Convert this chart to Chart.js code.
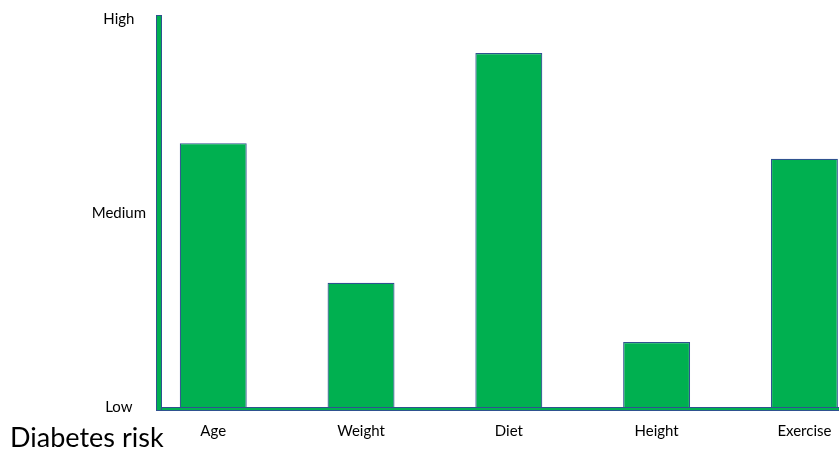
<!DOCTYPE html>
<html>
<head>
<meta charset="utf-8">
<script src="https://cdn.jsdelivr.net/npm/chart.js@4"></script>
<style>
    html, body { margin: 0; padding: 0; background: #fff; }
    #wrap { width: 839px; height: 452px; }
</style>
</head>
<body>
<div id="wrap"><canvas id="riskChart" width="839" height="452"></canvas></div>
<script>
// Data
const categories = ["Age", "Weight", "Diet", "Height", "Exercise"];
const riskValues = [1.36, 0.64, 1.825, 0.335, 1.28];
const riskTicks = [0, 1, 2];
const riskLabels = ["Low", "Medium", "High"];

const green = "#00B050";
const outline = "#2F528F";

// Axis arrows drawn as green bands with a blue outline
const axisBands = {
    id: "axisBands",
    afterDatasetsDraw(chart) {
        const { ctx, chartArea } = chart;
        const y0 = chart.scales.y.getPixelForValue(0);
        const left = chartArea.left;
        ctx.save();
        ctx.fillStyle = green;
        ctx.strokeStyle = outline;
        ctx.lineWidth = 1;
        // horizontal
        ctx.fillRect(left - 3, y0, chartArea.right - left + 3, 4);
        ctx.strokeRect(left - 2.5, y0 + 0.5, chartArea.right - left + 3, 3);
        // vertical
        ctx.fillRect(left - 3, chartArea.top - 4, 6, y0 - chartArea.top + 8);
        ctx.strokeRect(left - 2.5, chartArea.top - 3.5, 5, y0 - chartArea.top + 7);
        ctx.restore();
    },
};

const ctx = document.getElementById("riskChart");

const data = {
    datasets: [
        {
            data: categories.map((c, i) => ({ x: i, y: riskValues[i] })),
            backgroundColor: green,
            borderColor: outline,
            borderWidth: 1.2,
            categoryPercentage: 1,
            barPercentage: 0.453,
        },
    ],
};

const config = {
    type: "bar",
    data,
    plugins: [axisBands],
    options: {
        responsive: false,
        animation: false,
        layout: { padding: { left: 10, top: 19, right: 0, bottom: 0 } },
        scales: {
            x: {
                type: "linear",
                offset: false,
                min: -0.367,
                max: 4.234,
                afterBuildTicks: (scale) => {
                    scale.ticks = categories.map((c, i) => ({ value: i }));
                },
                afterFit: (scale) => {
                    scale.height = 45;
                    scale.paddingLeft = 0;
                    scale.paddingRight = 0;
                },
                grid: { display: false, drawTicks: false },
                border: { display: false },
                ticks: {
                    padding: 15,
                    color: "#000",
                    font: { family: "Lato", size: 15 },
                    maxRotation: 0,
                    callback: (v) => categories[v],
                },
            },
            y: {
                min: 0,
                max: 2,
                afterBuildTicks: (scale) => {
                    scale.ticks = riskTicks.map((v) => ({ value: v }));
                },
                afterFit: (scale) => {
                    scale.width = 149;
                    scale.paddingTop = 0;
                    scale.paddingBottom = 0;
                },
                grid: { display: false, drawTicks: false },
                border: { display: false },
                ticks: {
                    crossAlign: "center",
                    padding: 13,
                    color: "#000",
                    font: { family: "Lato", size: 15 },
                    callback: (v) => riskLabels[riskTicks.indexOf(v)],
                },
            },
        },
        plugins: {
            legend: { display: false },
            tooltip: { enabled: false },
            title: {
                display: true,
                text: "Diabetes risk",
                position: "bottom",
                align: "start",
                color: "#000",
                font: { family: "Lato", size: 27, weight: "normal", lineHeight: 1 },
                padding: { top: -27, bottom: 0 },
            },
        },
    },
};

new Chart(ctx, config);
</script>
</body>
</html>
